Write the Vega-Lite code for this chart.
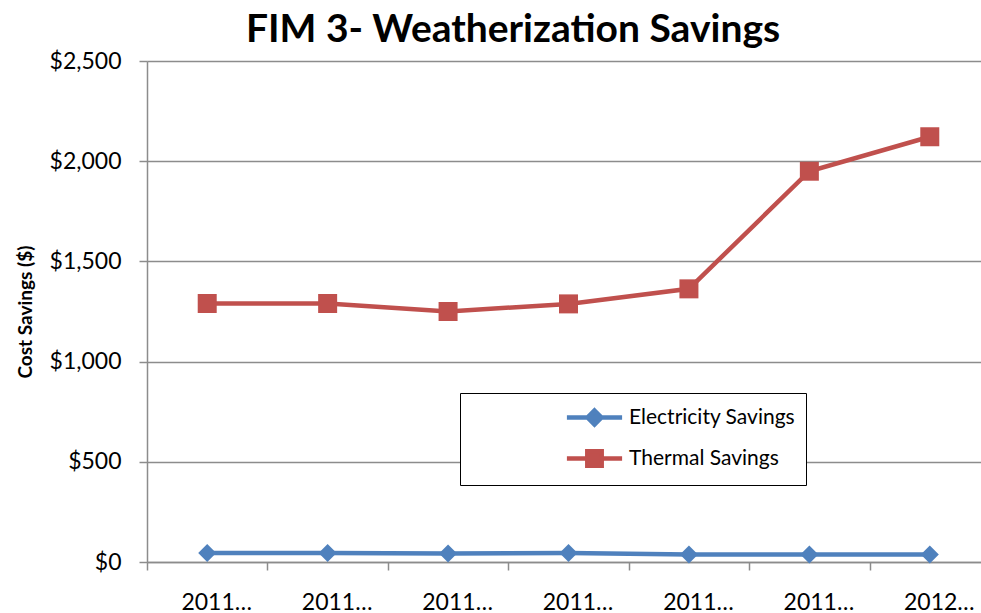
{
  "$schema": "https://vega.github.io/schema/vega-lite/v6.json",
  "width": 834,
  "height": 501,
  "autosize": {"type": "none"},
  "padding": {"left": 147, "top": 61, "right": 0, "bottom": 51},
  "background": "white",
  "title": {
    "text": "FIM 3- Weatherization Savings",
    "font": "Lato",
    "fontSize": 39,
    "fontWeight": "bold",
    "color": "#000000",
    "anchor": "middle",
    "dx": -51,
    "offset": 0
  },
  "config": {"view": {"stroke": null}, "font": "Lato"},
  "data": {
    "values": [
      {"period": "2011-07", "series": "Electricity Savings", "savings": 45},
      {"period": "2011-08", "series": "Electricity Savings", "savings": 45},
      {"period": "2011-09", "series": "Electricity Savings", "savings": 43},
      {"period": "2011-10", "series": "Electricity Savings", "savings": 45},
      {"period": "2011-11", "series": "Electricity Savings", "savings": 37},
      {"period": "2011-12", "series": "Electricity Savings", "savings": 38},
      {"period": "2012-01", "series": "Electricity Savings", "savings": 38},
      {"period": "2011-07", "series": "Thermal Savings", "savings": 1290},
      {"period": "2011-08", "series": "Thermal Savings", "savings": 1290},
      {"period": "2011-09", "series": "Thermal Savings", "savings": 1250},
      {"period": "2011-10", "series": "Thermal Savings", "savings": 1288},
      {"period": "2011-11", "series": "Thermal Savings", "savings": 1363},
      {"period": "2011-12", "series": "Thermal Savings", "savings": 1950},
      {"period": "2012-01", "series": "Thermal Savings", "savings": 2122}
    ]
  },
  "encoding": {
    "x": {
      "field": "period",
      "type": "ordinal",
      "sort": null,
      "scale": {"type": "band", "range": [0, 843], "paddingInner": 0, "paddingOuter": 0},
      "axis": {
        "title": null,
        "labelExpr": "datum.label ? slice(datum.label, 0, 4) + '…' : ''",
        "labelFont": "Lato",
        "labelFontSize": 23,
        "labelColor": "#000000",
        "labelAngle": 0,
        "labelPadding": 21,
        "labelOffset": 9,
        "tickBand": "extent",
        "tickSize": 8,
        "tickColor": "#8C8C8C",
        "tickWidth": 1.5,
        "domainColor": "#8C8C8C",
        "domainWidth": 1.5,
        "grid": false
      }
    },
    "y": {
      "field": "savings",
      "type": "quantitative",
      "scale": {"domain": [0, 2500], "nice": false},
      "axis": {
        "title": "Cost Savings ($)",
        "titleFont": "Lato",
        "titleFontSize": 19,
        "titleFontWeight": "bold",
        "titleColor": "#000000",
        "titlePadding": 14,
        "values": [0, 500, 1000, 1500, 2000, 2500],
        "format": "$,.0f",
        "labelFont": "Lato",
        "labelFontSize": 23,
        "labelColor": "#000000",
        "labelPadding": 18,
        "tickSize": 8,
        "tickColor": "#8C8C8C",
        "tickWidth": 1.5,
        "domainColor": "#8C8C8C",
        "domainWidth": 1.5,
        "gridColor": "#8C8C8C",
        "gridWidth": 1.5
      }
    }
  },
  "layer": [
    {
      "mark": {"type": "line", "strokeWidth": 4.5},
      "encoding": {
        "color": {
          "field": "series",
          "type": "nominal",
          "scale": {"range": ["#4F81BD", "#C0504D"]},
          "legend": null
        }
      }
    },
    {
      "transform": [{"filter": "datum.series === 'Electricity Savings'"}],
      "mark": {"type": "point", "shape": "diamond", "filled": true, "opacity": 1, "size": 324},
      "encoding": {
        "color": {"field": "series", "type": "nominal", "legend": null}
      }
    },
    {
      "transform": [{"filter": "datum.series === 'Thermal Savings'"}],
      "mark": {"type": "point", "shape": "square", "filled": true, "opacity": 1, "size": 361},
      "encoding": {
        "color": {"field": "series", "type": "nominal", "legend": null}
      }
    },
    {
      "transform": [{"filter": "false"}],
      "mark": {"type": "point", "filled": true, "opacity": 1, "strokeWidth": 4.5, "size": 576},
      "encoding": {
        "shape": {
          "field": "series",
          "type": "nominal",
          "scale": {
            "domain": ["Electricity Savings", "Thermal Savings"],
            "range": ["M-2.3,0H2.3M0,-0.58L0.58,0L0,0.58L-0.58,0Z", "M-2.3,0H2.3M-0.6,-0.6H0.6V0.6H-0.6Z"]
          },
          "legend": {
            "orient": "none",
            "legendX": 313,
            "legendY": 332,
            "title": "\u00a0",
            "titleOrient": "left",
            "titlePadding": 110,
            "padding": 10,
            "strokeColor": "#000000",
            "fillColor": "#ffffff",
            "labelFont": "Lato",
            "labelFontSize": 21,
            "labelColor": "#000000",
            "labelOffset": 20,
            "labelLimit": 500,
            "rowPadding": 8,
            "symbolSize": 576,
            "symbolStrokeWidth": 4.5,
            "labelExpr": "datum.label + '\u2003\u2003\u2003\u2003\u2002\u00a0'"
          }
        },
        "fill": {
          "field": "series",
          "type": "nominal",
          "scale": {"domain": ["Electricity Savings", "Thermal Savings"], "range": ["#4F81BD", "#C0504D"]},
          "legend": {
            "orient": "none",
            "legendX": 313,
            "legendY": 332,
            "title": "\u00a0",
            "titleOrient": "left",
            "titlePadding": 110,
            "padding": 10,
            "strokeColor": "#000000",
            "fillColor": "#ffffff",
            "labelFont": "Lato",
            "labelFontSize": 21,
            "labelColor": "#000000",
            "labelOffset": 20,
            "labelLimit": 500,
            "rowPadding": 8,
            "symbolSize": 576,
            "symbolStrokeWidth": 4.5,
            "labelExpr": "datum.label + '\u2003\u2003\u2003\u2003\u2002\u00a0'"
          }
        },
        "stroke": {
          "field": "series",
          "type": "nominal",
          "scale": {"domain": ["Electricity Savings", "Thermal Savings"], "range": ["#4F81BD", "#C0504D"]},
          "legend": {
            "orient": "none",
            "legendX": 313,
            "legendY": 332,
            "title": "\u00a0",
            "titleOrient": "left",
            "titlePadding": 110,
            "padding": 10,
            "strokeColor": "#000000",
            "fillColor": "#ffffff",
            "labelFont": "Lato",
            "labelFontSize": 21,
            "labelColor": "#000000",
            "labelOffset": 20,
            "labelLimit": 500,
            "rowPadding": 8,
            "symbolSize": 576,
            "symbolStrokeWidth": 4.5,
            "labelExpr": "datum.label + '\u2003\u2003\u2003\u2003\u2002\u00a0'"
          }
        }
      }
    }
  ]
}
